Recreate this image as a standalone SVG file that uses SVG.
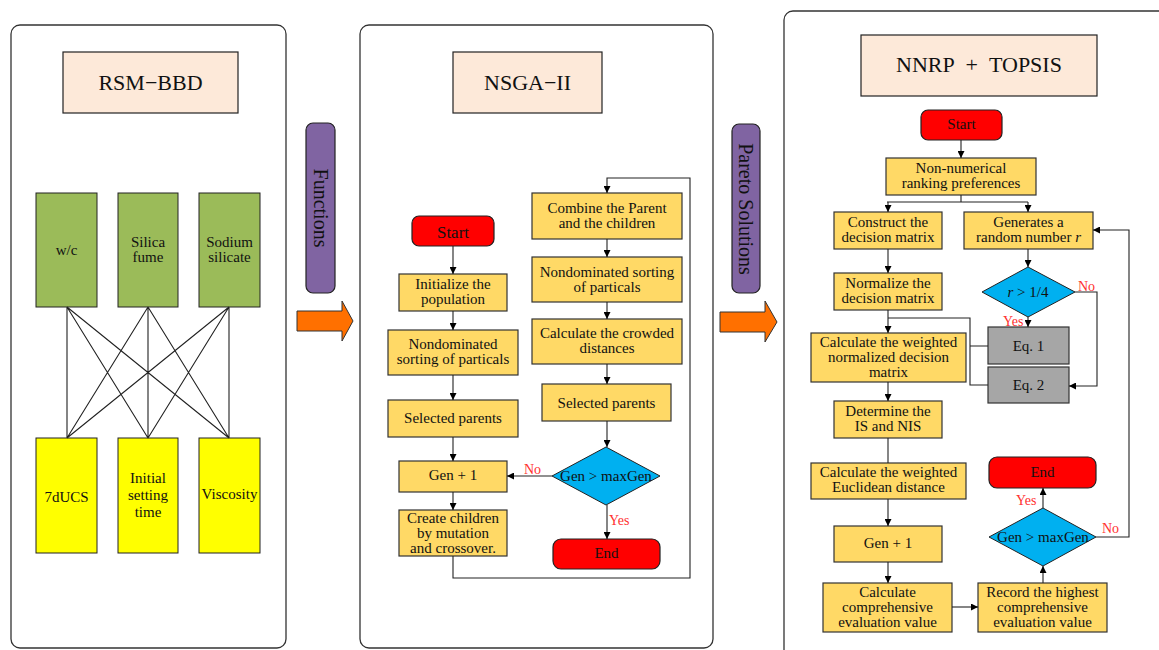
<svg xmlns="http://www.w3.org/2000/svg" width="1159" height="650" viewBox="0 0 1159 650">
<defs>
<marker id="ah" viewBox="0 0 10 10" refX="10" refY="5" markerWidth="7" markerHeight="7" markerUnits="userSpaceOnUse" orient="auto"><path d="M0,0 L10,5 L0,10 z" fill="#000"/></marker>
<style>
.panel{fill:#fff;stroke:#333;stroke-width:1.3}
.title{fill:#FDE9D9;stroke:#222;stroke-width:1.2}
.grn{fill:#9BBB59;stroke:#222;stroke-width:1}
.ylw{fill:#FFFF00;stroke:#222;stroke-width:1}
.box{fill:#FFD966;stroke:#333;stroke-width:1.2}
.red{fill:#FF0000;stroke:#222;stroke-width:1.2}
.dia{fill:#00B0F0;stroke:#222;stroke-width:1}
.gry{fill:#A6A6A6;stroke:#333;stroke-width:1.2}
.pur{fill:#8064A2;stroke:#222;stroke-width:1.2}
.org{fill:#FF7000;stroke:#333;stroke-width:1}
text{font-family:"Liberation Serif","Times New Roman",serif;fill:#111;text-anchor:middle}
.t{font-size:15px}
.tt{font-size:22px}
.lab{font-size:14px;fill:#FF3030;text-anchor:start}
.ln{fill:none;stroke:#222;stroke-width:1.1}
.ar{fill:none;stroke:#222;stroke-width:1.1;marker-end:url(#ah)}
</style>
</defs>

<!-- panels -->
<rect id="panel-left" class="panel" x="11" y="25" width="275" height="623" rx="9"/>
<rect id="panel-mid" class="panel" x="360" y="25" width="353" height="623" rx="9"/>
<rect id="panel-right" class="panel" x="784" y="11" width="400" height="660" rx="9"/>

<!-- left panel -->
<g id="rsm-title"><rect class="title" x="63" y="52" width="175" height="61"/><text class="tt" x="150.5" y="90">RSM−BBD</text></g>
<g id="wc"><rect class="grn" x="36" y="193" width="61" height="114"/><text class="t" x="66.5" y="255">w/c</text></g>
<g id="silica"><rect class="grn" x="118" y="193" width="60" height="114"/><text class="t" x="148" y="247">Silica</text><text class="t" x="148" y="262">fume</text></g>
<g id="sodium"><rect class="grn" x="199" y="193" width="61" height="114"/><text class="t" x="229.5" y="247">Sodium</text><text class="t" x="229.5" y="262">silicate</text></g>
<g id="ucs"><rect class="ylw" x="36" y="438" width="61" height="115"/><text class="t" x="66.5" y="502">7dUCS</text></g>
<g id="ist"><rect class="ylw" x="118" y="438" width="60" height="115"/><text class="t" x="148" y="483">Initial</text><text class="t" x="148" y="500">setting</text><text class="t" x="148" y="517">time</text></g>
<g id="visc"><rect class="ylw" x="199" y="438" width="61" height="115"/><text class="t" x="229.5" y="499">Viscosity</text></g>

<!-- between arrows -->
<g id="functions"><rect class="pur" x="306" y="123" width="29" height="170" rx="7"/><text font-size="20" transform="translate(314,208) rotate(90)">Functions</text></g>
<g id="arrow1"><path class="org" d="M297,311 H342 V301 L353,321 L342,341 V331 H297 Z"/></g>
<g id="pareto"><rect class="pur" x="732" y="124" width="28" height="169" rx="7"/><text font-size="20" transform="translate(739,209) rotate(90)">Pareto Solutions</text></g>
<g id="arrow2"><path class="org" d="M720,312 H765 V301 L777,322 L765,342 V332 H720 Z"/></g>

<!-- middle panel -->
<g id="nsga-title"><rect class="title" x="453" y="52" width="149" height="61"/><text class="tt" x="527.5" y="90">NSGA−II</text></g>
<g id="m-start"><rect class="red" x="412" y="216" width="82" height="30" rx="7"/><text x="453" y="238" font-size="17">Start</text></g>
<g id="m-init"><rect class="box" x="399" y="274" width="108" height="37"/><text class="t" x="453" y="289">Initialize the</text><text class="t" x="453" y="304">population</text></g>
<g id="m-nds1"><rect class="box" x="388" y="330" width="130" height="45"/><text class="t" x="453" y="349">Nondominated</text><text class="t" x="453" y="364">sorting of particals</text></g>
<g id="m-sel1"><rect class="box" x="388" y="400" width="130" height="37"/><text class="t" x="453" y="423">Selected parents</text></g>
<g id="m-gen"><rect class="box" x="399" y="461" width="108" height="31"/><text class="t" x="453" y="480">Gen + 1</text></g>
<g id="m-create"><rect class="box" x="399" y="510" width="108" height="46"/><text class="t" x="453" y="523">Create children</text><text class="t" x="453" y="538">by mutation</text><text class="t" x="453" y="553">and crossover.</text></g>
<g id="m-combine"><rect class="box" x="532" y="193" width="150" height="46"/><text class="t" x="607" y="213">Combine the Parent</text><text class="t" x="607" y="228">and the children</text></g>
<g id="m-nds2"><rect class="box" x="532" y="257" width="150" height="45"/><text class="t" x="607" y="277">Nondominated sorting</text><text class="t" x="607" y="292">of particals</text></g>
<g id="m-crowd"><rect class="box" x="532" y="319" width="150" height="45"/><text class="t" x="607" y="338">Calculate the crowded</text><text class="t" x="607" y="353">distances</text></g>
<g id="m-sel2"><rect class="box" x="542" y="384" width="129" height="37"/><text class="t" x="606.5" y="408">Selected parents</text></g>
<g id="m-dec"><path class="dia" d="M606,447 L660,476 L606,505 L552,476 Z"/><text class="t" x="606" y="481">Gen &gt; maxGen</text></g>
<g id="m-end"><rect class="red" x="553" y="539" width="107" height="30" rx="8"/><text class="t" x="606.5" y="558">End</text></g>

<!-- right panel -->
<g id="topsis-title"><rect class="title" x="861" y="35" width="236" height="61"/><text class="tt" x="979" y="72" word-spacing="6">NNRP + TOPSIS</text></g>
<g id="r-start"><rect class="red" x="921" y="110" width="81" height="30" rx="7"/><text class="t" x="961.5" y="129">Start</text></g>
<g id="r-nnrp"><rect class="box" x="886" y="158" width="150" height="37"/><text class="t" x="961" y="173">Non-numerical</text><text class="t" x="961" y="188">ranking preferences</text></g>
<g id="r-construct"><rect class="box" x="834" y="212" width="108" height="37"/><text class="t" x="888" y="227">Construct the</text><text class="t" x="888" y="242">decision matrix</text></g>
<g id="r-gen-r"><rect class="box" x="964" y="212" width="129" height="37"/><text class="t" x="1028.5" y="227">Generates a</text><text class="t" x="1028.5" y="242">random number <tspan font-style="italic">r</tspan></text></g>
<g id="r-normalize"><rect class="box" x="834" y="273" width="108" height="37"/><text class="t" x="888" y="288">Normalize the</text><text class="t" x="888" y="303">decision matrix</text></g>
<g id="r-dec1"><path class="dia" d="M1028,267 L1075,292 L1028,317 L982,292 Z"/><text class="t" x="1028" y="297"><tspan font-style="italic">r</tspan> &gt; 1/4</text></g>
<g id="r-eq1"><rect class="gry" x="988" y="327" width="81" height="37"/><text class="t" x="1028.5" y="351">Eq. 1</text></g>
<g id="r-eq2"><rect class="gry" x="988" y="367" width="81" height="36"/><text class="t" x="1028.5" y="390">Eq. 2</text></g>
<g id="r-wnorm"><rect class="box" x="811" y="333" width="155" height="49"/><text class="t" x="888.5" y="347">Calculate the weighted</text><text class="t" x="888.5" y="362">normalized decision</text><text class="t" x="888.5" y="377">matrix</text></g>
<g id="r-isnis"><rect class="box" x="834" y="401" width="108" height="37"/><text class="t" x="888" y="416">Determine the</text><text class="t" x="888" y="431">IS and NIS</text></g>
<g id="r-eucl"><rect class="box" x="811" y="463" width="155" height="36"/><text class="t" x="888.5" y="477">Calculate the weighted</text><text class="t" x="888.5" y="492">Euclidean distance</text></g>
<g id="r-gen"><rect class="box" x="834" y="526" width="108" height="36"/><text class="t" x="888" y="548">Gen + 1</text></g>
<g id="r-comp"><rect class="box" x="823" y="583" width="129" height="49"/><text class="t" x="887.5" y="597">Calculate</text><text class="t" x="887.5" y="612">comprehensive</text><text class="t" x="887.5" y="627">evaluation value</text></g>
<g id="r-record"><rect class="box" x="978" y="583" width="129" height="49"/><text class="t" x="1042.5" y="597">Record the highest</text><text class="t" x="1042.5" y="612">comprehensive</text><text class="t" x="1042.5" y="627">evaluation value</text></g>
<g id="r-dec2"><path class="dia" d="M1043,508 L1096,537 L1043,566 L989,537 Z"/><text class="t" x="1043" y="542">Gen &gt; maxGen</text></g>
<g id="r-end"><rect class="red" x="989" y="457" width="107" height="31" rx="8"/><text class="t" x="1042.5" y="477">End</text></g>

<!-- connectors -->
<g id="connectors">
<path class="ln" d="M67,307 L67,438 M67,307 L148,438 M67,307 L229,438 M148,307 L67,438 M148,307 L148,438 M148,307 L229,438 M229,307 L67,438 M229,307 L148,438 M229,307 L229,438"/>
<path class="ar" d="M453,246 V274"/>
<path class="ar" d="M453,311 V330"/>
<path class="ar" d="M453,375 V400"/>
<path class="ar" d="M453,437 V461"/>
<path class="ar" d="M453,492 V510"/>
<path class="ar" d="M453,556 V578 H690 V178 H607 V193"/>
<path class="ar" d="M607,239 V257"/>
<path class="ar" d="M607,302 V319"/>
<path class="ar" d="M607,364 V384"/>
<path class="ar" d="M607,421 V447"/>
<path class="ar" d="M552,476 H507"/>
<path class="ar" d="M607,505 V539"/>
<path class="ar" d="M961,140 V158"/>
<path class="ln" d="M961,195 V202 M887,202 H1028"/>
<path class="ar" d="M888,202 V212"/>
<path class="ar" d="M1028,202 V212"/>
<path class="ar" d="M888,249 V273"/>
<path class="ar" d="M1028,249 V267"/>
<path class="ar" d="M888,310 V333"/>
<path class="ln" d="M888,318 H970 V385 H988 M970,346 H988"/>
<path class="ar" d="M1028,317 V327"/>
<path class="ar" d="M1075,292 H1097 V386 H1069"/>
<path class="ar" d="M888,382 V401"/>
<path class="ln" d="M888,438 V463"/>
<path class="ar" d="M888,499 V526"/>
<path class="ar" d="M888,562 V583"/>
<path class="ar" d="M952,607 H978"/>
<path class="ar" d="M1043,583 V566"/>
<path class="ar" d="M1043,508 V488"/>
<path class="ar" d="M1096,537 H1129 V230 H1093"/>
</g>
<g id="labels">
<text class="lab" x="524" y="474">No</text>
<text class="lab" x="609" y="525">Yes</text>
<text class="lab" x="1078" y="291">No</text>
<text class="lab" x="1003" y="326">Yes</text>
<text class="lab" x="1016" y="505">Yes</text>
<text class="lab" x="1102" y="533">No</text>
</g>
</svg>
